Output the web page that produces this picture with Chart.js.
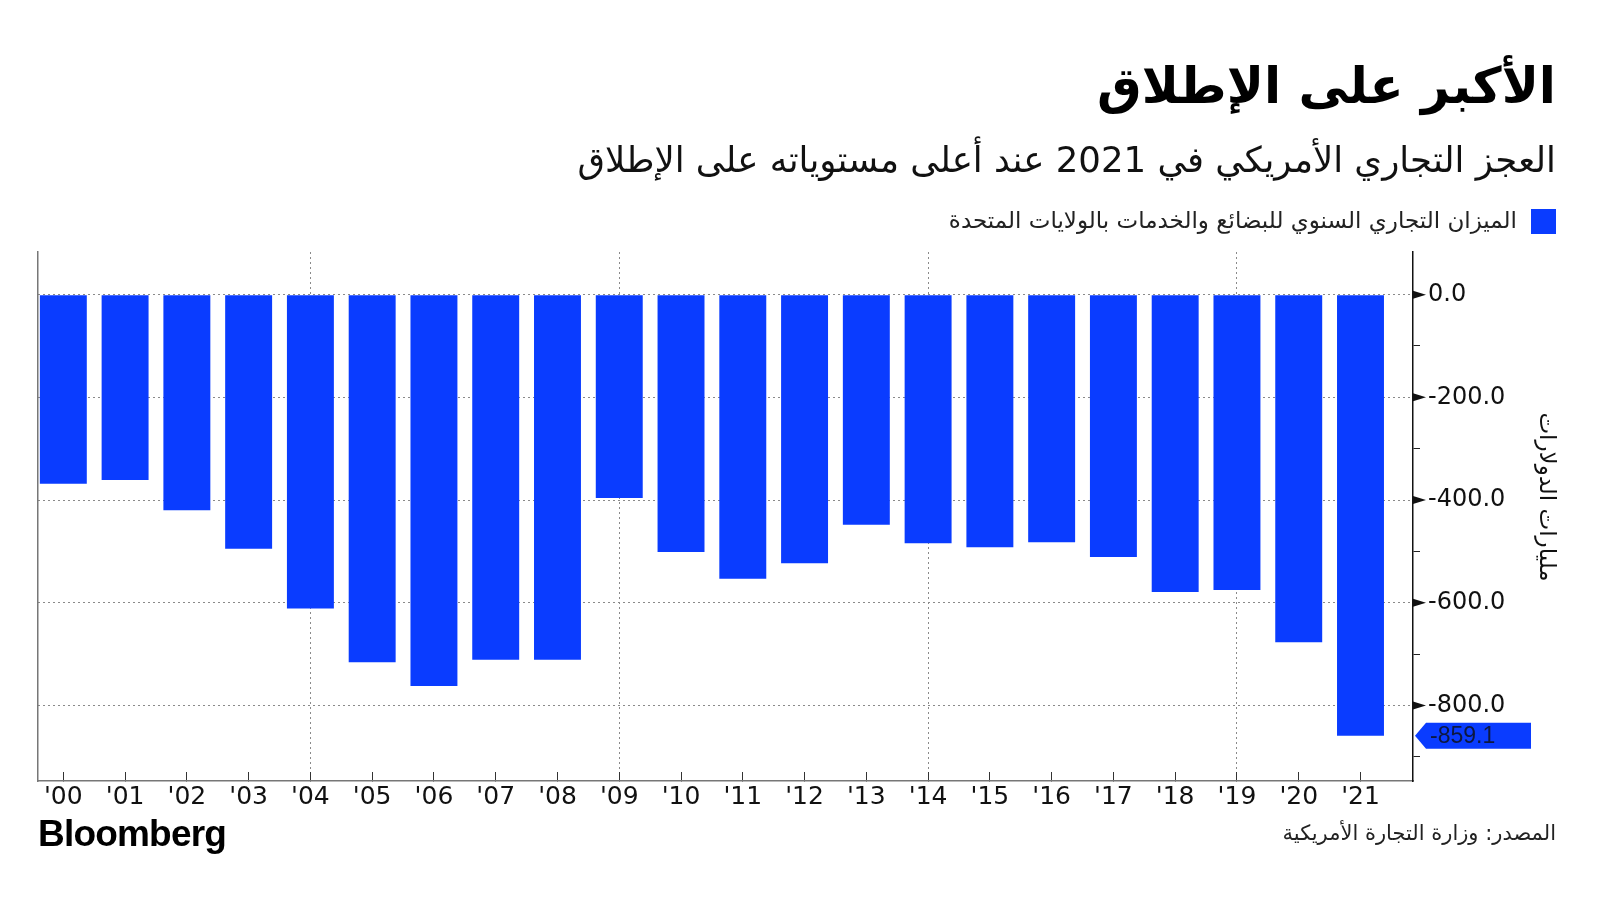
<!DOCTYPE html>
<html>
<head>
<meta charset="utf-8">
<script src="https://cdn.jsdelivr.net/npm/chart.js@4.4.1/dist/chart.umd.min.js"></script>
<style>
  body { margin: 0; background: #fff; }
  #wrap { position: relative; width: 1600px; height: 900px; overflow: hidden; background: #fff; }
  #wrap canvas { position: absolute; left: 0; top: 0; }
  .t { position: absolute; right: 44px; direction: rtl; white-space: nowrap; line-height: 1;
       font-family: "DejaVu Sans", sans-serif; color: #111; }
  #title { top: 61px; font-size: 50px; font-weight: bold; color: #000; }
  #sub { top: 142px; font-size: 35.5px; }
  #legend { top: 209px; font-size: 23px; color: #222; }
  #legend span { display: inline-block; width: 25px; height: 25px; background: #0a3cff; vertical-align: middle; margin-left: 14px; }
  #source { top: 823px; font-size: 21px; color: #222; }
  #logo { position: absolute; left: 38px; top: 813px; font-family: "Liberation Sans", Arial, sans-serif;
          font-weight: bold; font-size: 37px; letter-spacing: -0.8px; color: #000; }
</style>
</head>
<body>
<div id="wrap">
  <canvas id="tradeChart" width="1600" height="900"></canvas>
  <div class="t" id="title">الأكبر على الإطلاق</div>
  <div class="t" id="sub">العجز التجاري الأمريكي في 2021 عند أعلى مستوياته على الإطلاق</div>
  <div class="t" id="legend"><span></span>الميزان التجاري السنوي للبضائع والخدمات بالولايات المتحدة</div>
  <div class="t" id="source">المصدر: وزارة التجارة الأمريكية</div>
  <div id="logo">Bloomberg</div>
</div>
<script>
const years = ["'00", "'01", "'02", "'03", "'04", "'05", "'06", "'07", "'08", "'09", "'10",
  "'11", "'12", "'13", "'14", "'15", "'16", "'17", "'18", "'19", "'20", "'21"];
const balance = [-368, -361, -420, -495, -611, -716, -762, -711, -711, -396, -501,
  -553, -523, -448, -484, -492, -482, -511, -579, -575, -677, -859.1];
const yTicks = [0, -100, -200, -300, -400, -500, -600, -700, -800, -900];
const yTitle = 'مليارات الدولارات';
const barColor = '#0a3cff';

// triangles on major ticks, rotated axis title, tag for the last value
const extras = {
  id: 'extras',
  afterDraw(chart) {
    const ctx = chart.ctx;
    const y = chart.scales.y;
    const x0 = y.left;
    ctx.save();
    ctx.fillStyle = '#111';
    yTicks.filter(v => v % 200 === 0).forEach(v => {
      const py = y.getPixelForValue(v);
      ctx.beginPath();
      ctx.moveTo(x0, py - 4);
      ctx.lineTo(x0 + 13, py);
      ctx.lineTo(x0, py + 4);
      ctx.fill();
    });

    ctx.save();
    ctx.translate(1546, 497);
    ctx.rotate(Math.PI / 2);
    ctx.font = '23px "DejaVu Sans"';
    ctx.textAlign = 'center';
    ctx.textBaseline = 'middle';
    ctx.fillText(yTitle, 0, 0);
    ctx.restore();

    const last = balance[balance.length - 1];
    const py = y.getPixelForValue(last);
    ctx.fillStyle = barColor;
    ctx.beginPath();
    ctx.moveTo(x0 + 2, py);
    ctx.lineTo(x0 + 13, py - 13);
    ctx.lineTo(x0 + 118, py - 13);
    ctx.lineTo(x0 + 118, py + 13);
    ctx.lineTo(x0 + 13, py + 13);
    ctx.closePath();
    ctx.fill();
    ctx.fillStyle = '#0d1840';
    ctx.font = '23px "Liberation Sans"';
    ctx.textBaseline = 'middle';
    ctx.fillText(last.toFixed(1), x0 + 17, py + 1);
    ctx.restore();
  }
};

new Chart(document.getElementById('tradeChart'), {
  type: 'bar',
  data: {
    datasets: [{
      data: balance.map((v, i) => ({ x: i, y: v })),
      backgroundColor: barColor,
      borderWidth: 0,
      barPercentage: 0.76,
      categoryPercentage: 1,
      yAxisID: 'y'
    }]
  },
  options: {
    responsive: false,
    animation: false,
    layout: { padding: { left: 38, top: 252, right: 42, bottom: 0 } },
    plugins: { legend: { display: false }, tooltip: { enabled: false } },
    scales: {
      x: {
        type: 'linear',
        offset: false,
        min: -0.41,
        max: 21.85,
        afterBuildTicks: s => { s.ticks = years.map((_, i) => ({ value: i })); },
        afterFit: s => { s.height = 119; },
        grid: {
          color: c => (c.tick && c.tick.value % 5 === 4) ? '#8a8a8a' : 'rgba(0,0,0,0)',
          tickColor: '#333',
          tickLength: -9,
          offset: false
        },
        border: { color: '#777', width: 1.5, dash: [2, 3] },
        ticks: {
          callback: v => years[v],
          autoSkip: false,
          maxRotation: 0,
          padding: 10,
          color: '#111',
          font: { family: 'DejaVu Sans', size: 25 }
        }
      },
      y: {
        position: 'right',
        min: -947,
        max: 83,
        afterBuildTicks: s => { s.ticks = yTicks.map(v => ({ value: v })); },
        afterFit: s => { s.width = 145; },
        grid: {
          color: c => (c.tick && c.tick.value % 200 === 0) ? '#8a8a8a' : 'rgba(0,0,0,0)',
          tickColor: '#222',
          tickLength: 7
        },
        border: { color: '#111', width: 1.5, dash: [2, 3] },
        ticks: {
          callback: v => v % 200 === 0 ? v.toFixed(1) : '',
          padding: 8,
          color: '#111',
          font: { family: 'DejaVu Sans', size: 24 }
        }
      },
      yl: {
        position: 'left',
        min: -947,
        max: 83,
        afterFit: s => { s.width = 0; },
        ticks: { display: false },
        grid: { display: false },
        border: { display: true, color: '#777', width: 1.5 }
      }
    }
  },
  plugins: [extras]
});
</script>
</body>
</html>
